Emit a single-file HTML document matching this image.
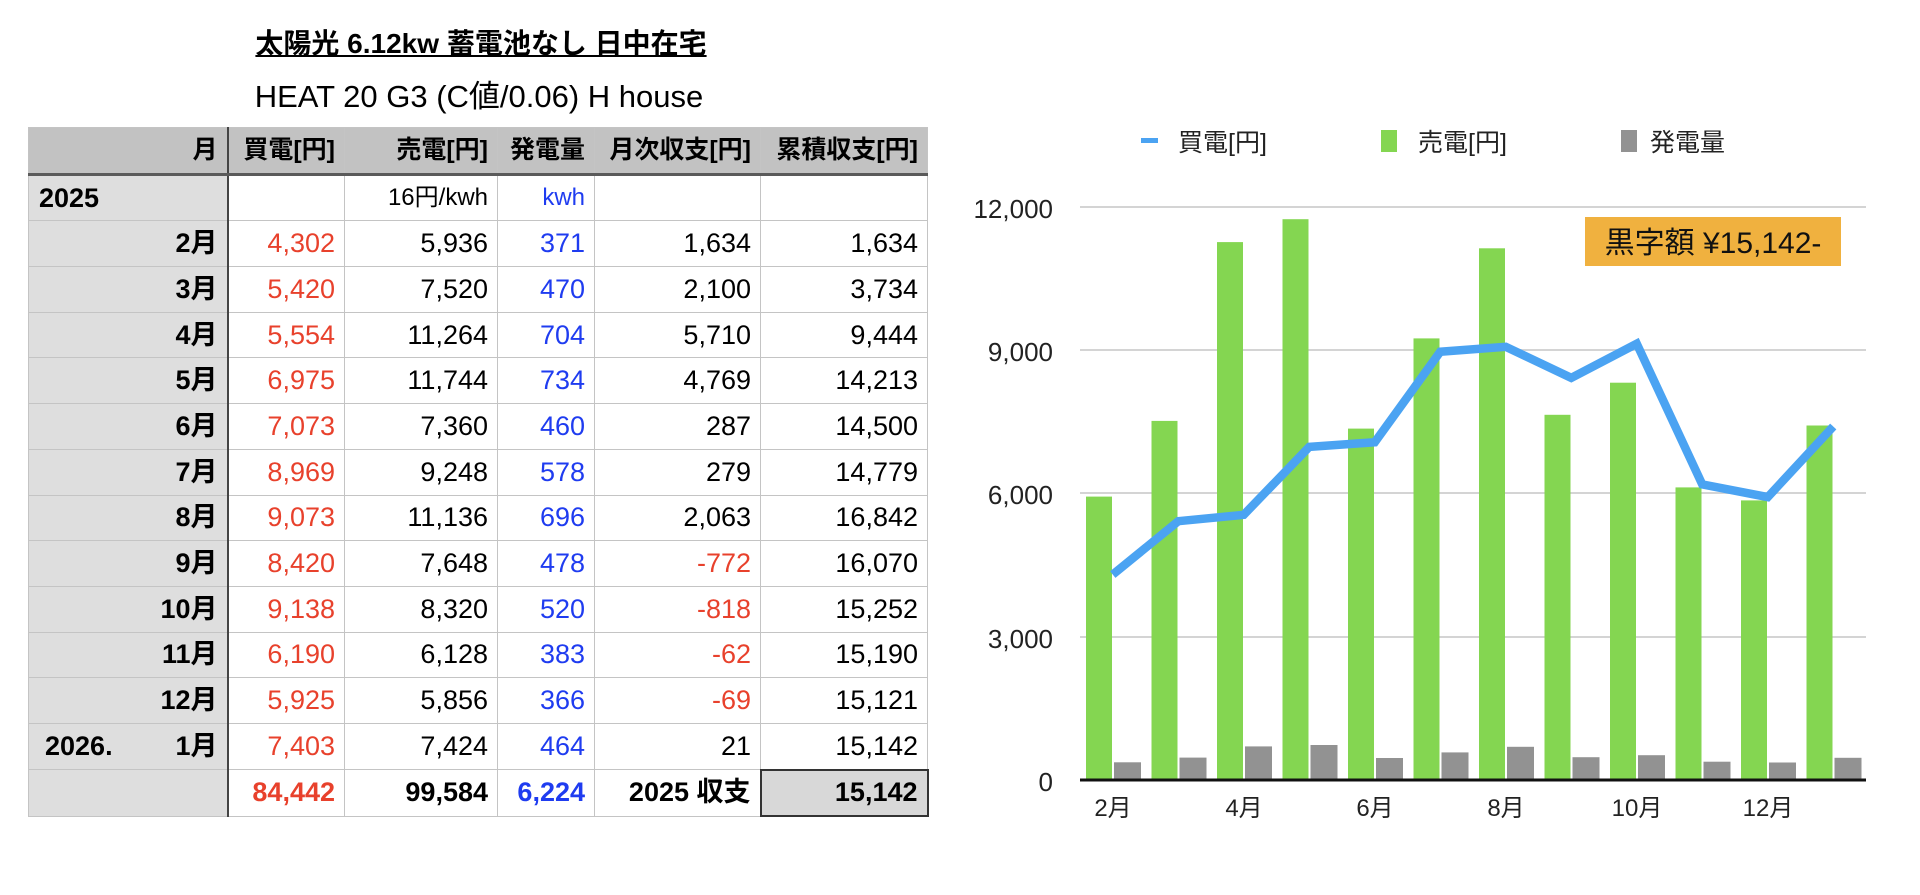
<!DOCTYPE html>
<html><head><meta charset="utf-8"><style>
body{margin:0;width:1920px;height:895px;background:#fff;position:relative;overflow:hidden;font-family:"Liberation Sans","Noto Sans CJK JP",sans-serif;}
.t1{position:absolute;left:0;width:962px;top:22px;text-align:center;font-size:28px;font-weight:bold;}
.t1 span{text-decoration:underline;}
.t2{position:absolute;left:0;width:958px;top:71px;text-align:center;font-size:31px;}
table{position:absolute;left:28px;top:127px;border-collapse:collapse;table-layout:fixed;font-size:27px;}
td{height:44.7px;border:1px solid #c4c4c4;text-align:right;padding:0 9px 0 4px;white-space:nowrap;line-height:1;}
tr.h td{background:#c2c2c2;font-weight:bold;border-bottom:3px solid #5a5a5a;font-size:25px;}
td.m{background:#dedede;font-weight:bold;border-right:2px solid #444;}
.r{color:#e8412c}.b{color:#1f3cf0}
tr.tot td{font-weight:bold}
td.g{background:#d8d8d8;border:2px solid #333}
</style></head><body>
<div class="t1"><span>太陽光 6.12kw 蓄電池なし 日中在宅</span></div>
<div class="t2">HEAT 20 G3 (C値/0.06) H house</div>
<table>
<colgroup><col style="width:199px"><col style="width:117px"><col style="width:153px"><col style="width:97px"><col style="width:166px"><col style="width:167px"></colgroup>
<tr class="h"><td class="m" style="background:#c2c2c2">月</td><td>買電[円]</td><td>売電[円]</td><td>発電量</td><td>月次収支[円]</td><td>累積収支[円]</td></tr>
<tr><td class="m" style="text-align:left;padding-left:10px">2025</td><td></td><td style="font-size:24px">16円/kwh</td><td class="b" style="font-size:24px">kwh</td><td></td><td></td></tr>
<tr><td class="m">2月</td><td class="r">4,302</td><td>5,936</td><td class="b">371</td><td>1,634</td><td>1,634</td></tr>
<tr><td class="m">3月</td><td class="r">5,420</td><td>7,520</td><td class="b">470</td><td>2,100</td><td>3,734</td></tr>
<tr><td class="m">4月</td><td class="r">5,554</td><td>11,264</td><td class="b">704</td><td>5,710</td><td>9,444</td></tr>
<tr><td class="m">5月</td><td class="r">6,975</td><td>11,744</td><td class="b">734</td><td>4,769</td><td>14,213</td></tr>
<tr><td class="m">6月</td><td class="r">7,073</td><td>7,360</td><td class="b">460</td><td>287</td><td>14,500</td></tr>
<tr><td class="m">7月</td><td class="r">8,969</td><td>9,248</td><td class="b">578</td><td>279</td><td>14,779</td></tr>
<tr><td class="m">8月</td><td class="r">9,073</td><td>11,136</td><td class="b">696</td><td>2,063</td><td>16,842</td></tr>
<tr><td class="m">9月</td><td class="r">8,420</td><td>7,648</td><td class="b">478</td><td class="r">-772</td><td>16,070</td></tr>
<tr><td class="m">10月</td><td class="r">9,138</td><td>8,320</td><td class="b">520</td><td class="r">-818</td><td>15,252</td></tr>
<tr><td class="m">11月</td><td class="r">6,190</td><td>6,128</td><td class="b">383</td><td class="r">-62</td><td>15,190</td></tr>
<tr><td class="m">12月</td><td class="r">5,925</td><td>5,856</td><td class="b">366</td><td class="r">-69</td><td>15,121</td></tr>
<tr><td class="m"><span style="float:left;padding-left:12px">2026.</span>1月</td><td class="r">7,403</td><td>7,424</td><td class="b">464</td><td>21</td><td>15,142</td></tr>
<tr class="tot"><td class="m"></td><td class="r">84,442</td><td>99,584</td><td class="b">6,224</td><td>2025 収支</td><td class="g">15,142</td></tr>
</table>
<svg style="position:absolute;left:0;top:0" width="1920" height="895" font-family="Liberation Sans, Noto Sans CJK JP, sans-serif">
<g stroke="#d4d4d4" stroke-width="2">
<line x1="1080" x2="1866" y1="207" y2="207"/><line x1="1080" x2="1866" y1="350" y2="350"/><line x1="1080" x2="1866" y1="493" y2="493"/><line x1="1080" x2="1866" y1="637" y2="637"/>
</g>
<g font-size="26" text-anchor="end" fill="#222">
<text x="1053" y="218">12,000</text><text x="1053" y="361">9,000</text><text x="1053" y="504">6,000</text><text x="1053" y="648">3,000</text><text x="1053" y="791">0</text>
</g>
<g fill="#84d651">
<rect x="1086" y="496.6" width="26" height="283.4"/>
<rect x="1151.5" y="420.9" width="26" height="359.1"/>
<rect x="1217" y="242.1" width="26" height="537.9"/>
<rect x="1282.5" y="219.2" width="26" height="560.8"/>
<rect x="1348" y="428.6" width="26" height="351.4"/>
<rect x="1413.5" y="338.4" width="26" height="441.6"/>
<rect x="1479" y="248.3" width="26" height="531.7"/>
<rect x="1544.5" y="414.8" width="26" height="365.2"/>
<rect x="1610" y="382.7" width="26" height="397.3"/>
<rect x="1675.5" y="487.4" width="26" height="292.6"/>
<rect x="1741" y="500.4" width="26" height="279.6"/>
<rect x="1806.5" y="425.5" width="26" height="354.5"/>
</g>
<g fill="#929292">
<rect x="1114" y="762.3" width="27" height="17.7"/>
<rect x="1179.5" y="757.6" width="27" height="22.4"/>
<rect x="1245" y="746.4" width="27" height="33.6"/>
<rect x="1310.5" y="745" width="27" height="35"/>
<rect x="1376" y="758" width="27" height="22"/>
<rect x="1441.5" y="752.4" width="27" height="27.6"/>
<rect x="1507" y="746.8" width="27" height="33.2"/>
<rect x="1572.5" y="757.2" width="27" height="22.8"/>
<rect x="1638" y="755.2" width="27" height="24.8"/>
<rect x="1703.5" y="761.7" width="27" height="18.3"/>
<rect x="1769" y="762.5" width="27" height="17.5"/>
<rect x="1834.5" y="757.8" width="27" height="22.2"/>
</g>
<polyline fill="none" stroke="#4ba3f2" stroke-width="8.5" stroke-linejoin="miter" points="1112.75,574.6 1178.25,521.2 1243.75,514.8 1309.25,446.9 1374.75,442.3 1440.25,351.7 1505.75,346.8 1571.25,377.9 1636.75,343.7 1702.25,484.4 1767.75,497.1 1833.25,426.5"/>
<line x1="1080" x2="1866" y1="780" y2="780" stroke="#111" stroke-width="3"/>
<g font-size="24" text-anchor="middle" fill="#222">
<text x="1113" y="816">2月</text><text x="1244" y="816">4月</text><text x="1375" y="816">6月</text><text x="1506" y="816">8月</text><text x="1637" y="816">10月</text><text x="1768" y="816">12月</text>
</g>
<rect x="1585" y="217" width="256" height="49" fill="#f0b13f"/>
<text x="1713" y="253" font-size="30" text-anchor="middle" fill="#111">黒字額 ¥15,142-</text>
<rect x="1141" y="138" width="17" height="5" fill="#4ba3f2"/>
<text x="1178" y="151" font-size="25" fill="#222">買電[円]</text>
<rect x="1381" y="130" width="16" height="22" fill="#84d651"/>
<text x="1418" y="151" font-size="25" fill="#222">売電[円]</text>
<rect x="1621" y="130" width="16" height="22" fill="#929292"/>
<text x="1650" y="151" font-size="25" fill="#222">発電量</text>
</svg>
</body></html>
